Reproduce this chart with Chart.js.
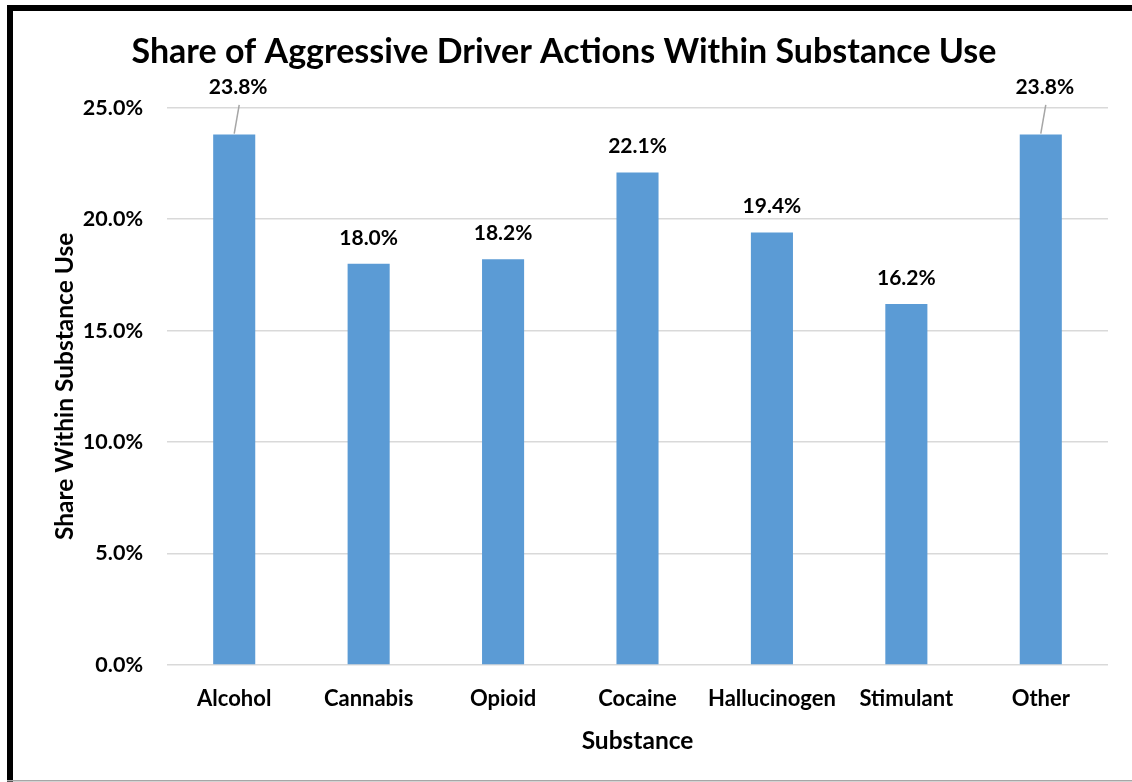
<!DOCTYPE html>
<html>
<head>
<meta charset="utf-8">
<script src="https://cdn.jsdelivr.net/npm/chart.js@4.4.1/dist/chart.umd.min.js"></script>
<style>
  html, body { margin: 0; padding: 0; background: #fff; }
  #wrap { width: 1132px; height: 782px; position: relative; }
</style>
</head>
<body>
<div id="wrap"><canvas id="c" width="1132" height="782"></canvas></div>
<script>
// Substance categories and the share of aggressive driver actions (%)
const categories = ['Alcohol', 'Cannabis', 'Opioid', 'Cocaine', 'Hallucinogen', 'Stimulant', 'Other'];
const shares = [23.8, 18.0, 18.2, 22.1, 19.4, 16.2, 23.8];
const yTickValues = [0, 5, 10, 15, 20, 25];

const FONT = 'Lato, Carlito, "Liberation Sans", sans-serif';

// Frame around the chart: heavy black top/left edge, thin grey bottom edge
const framePlugin = {
  id: 'frame',
  beforeDraw(chart) {
    const ctx = chart.ctx;
    ctx.save();
    ctx.fillStyle = '#ffffff';
    ctx.fillRect(0, 0, chart.width, chart.height);
    ctx.fillStyle = '#000000';
    ctx.fillRect(7, 5, chart.width - 7, 6);
    ctx.fillRect(7, 5, 6, chart.height - 5);
    ctx.fillStyle = '#a6a6a6';
    ctx.fillRect(7, chart.height - 2, chart.width - 7, 1.5);
    ctx.restore();
  }
};

// Value labels above each bar; labels that would crowd the top gridline
// are lifted above it and tied to the bar with a short leader line
const valueLabelPlugin = {
  id: 'valueLabels',
  afterDatasetsDraw(chart) {
    const ctx = chart.ctx;
    const yScale = chart.scales.y;
    const meta = chart.getDatasetMeta(0);
    const topLine = yScale.getPixelForValue(yScale.max);
    ctx.save();
    ctx.font = 'bold 21px ' + FONT;
    ctx.textAlign = 'center';
    ctx.textBaseline = 'middle';
    meta.data.forEach((bar, i) => {
      const text = shares[i].toFixed(1) + '%';
      let lx = bar.x;
      let ly = bar.y - 26;
      if (ly < topLine + 12) {
        ly = topLine - 21;
        lx = bar.x + 4;
        ctx.strokeStyle = '#a6a6a6';
        ctx.lineWidth = 1.5;
        ctx.beginPath();
        ctx.moveTo(bar.x, bar.y - 1);
        ctx.lineTo(lx + 1, ly + 18);
        ctx.stroke();
      }
      ctx.fillStyle = '#000000';
      ctx.fillText(text, lx, ly);
    });
    ctx.restore();
  }
};

new Chart(document.getElementById('c'), {
  type: 'bar',
  data: {
    labels: categories,
    datasets: [{
      data: shares,
      backgroundColor: '#5b9bd5',
      borderWidth: 0,
      barPercentage: 0.313,
      categoryPercentage: 1.0
    }]
  },
  options: {
    responsive: false,
    animation: false,
    devicePixelRatio: 1,
    layout: { padding: { top: 12, left: 20, right: 24, bottom: 10 } },
    plugins: {
      legend: { display: false },
      tooltip: { enabled: false },
      title: {
        display: true,
        text: 'Share of Aggressive Driver Actions Within Substance Use',
        color: '#000000',
        font: { family: FONT, size: 34, weight: 'bold' },
        padding: { top: 20, bottom: 35 }
      }
    },
    scales: {
      x: {
        grid: { display: false, drawTicks: false },
        border: { display: false },
        ticks: {
          color: '#000000',
          font: { family: FONT, size: 22, weight: 'bold' },
          padding: 21,
          maxRotation: 0,
          autoSkip: false
        },
        title: {
          display: true,
          text: 'Substance',
          color: '#000000',
          font: { family: FONT, size: 24.5, weight: 'bold' },
          padding: { top: 0, bottom: 16 }
        },
        afterFit(scale) { scale.height = 107; }
      },
      y: {
        min: 0,
        max: 25,
        afterBuildTicks(scale) {
          scale.ticks = yTickValues.map(v => ({ value: v }));
        },
        grid: { color: '#d9d9d9', lineWidth: 1.5, drawTicks: false },
        border: { display: false },
        ticks: {
          color: '#000000',
          font: { family: FONT, size: 21.5, weight: 'bold' },
          padding: 24,
          callback: v => Number(v).toFixed(1) + '%'
        },
        title: {
          display: true,
          text: 'Share Within Substance Use',
          color: '#000000',
          font: { family: FONT, size: 24.5, weight: 'bold' },
          padding: { top: 30, bottom: 0 }
        },
        afterFit(scale) { scale.width = 147; }
      }
    }
  },
  plugins: [framePlugin, valueLabelPlugin]
});
</script>
</body>
</html>
